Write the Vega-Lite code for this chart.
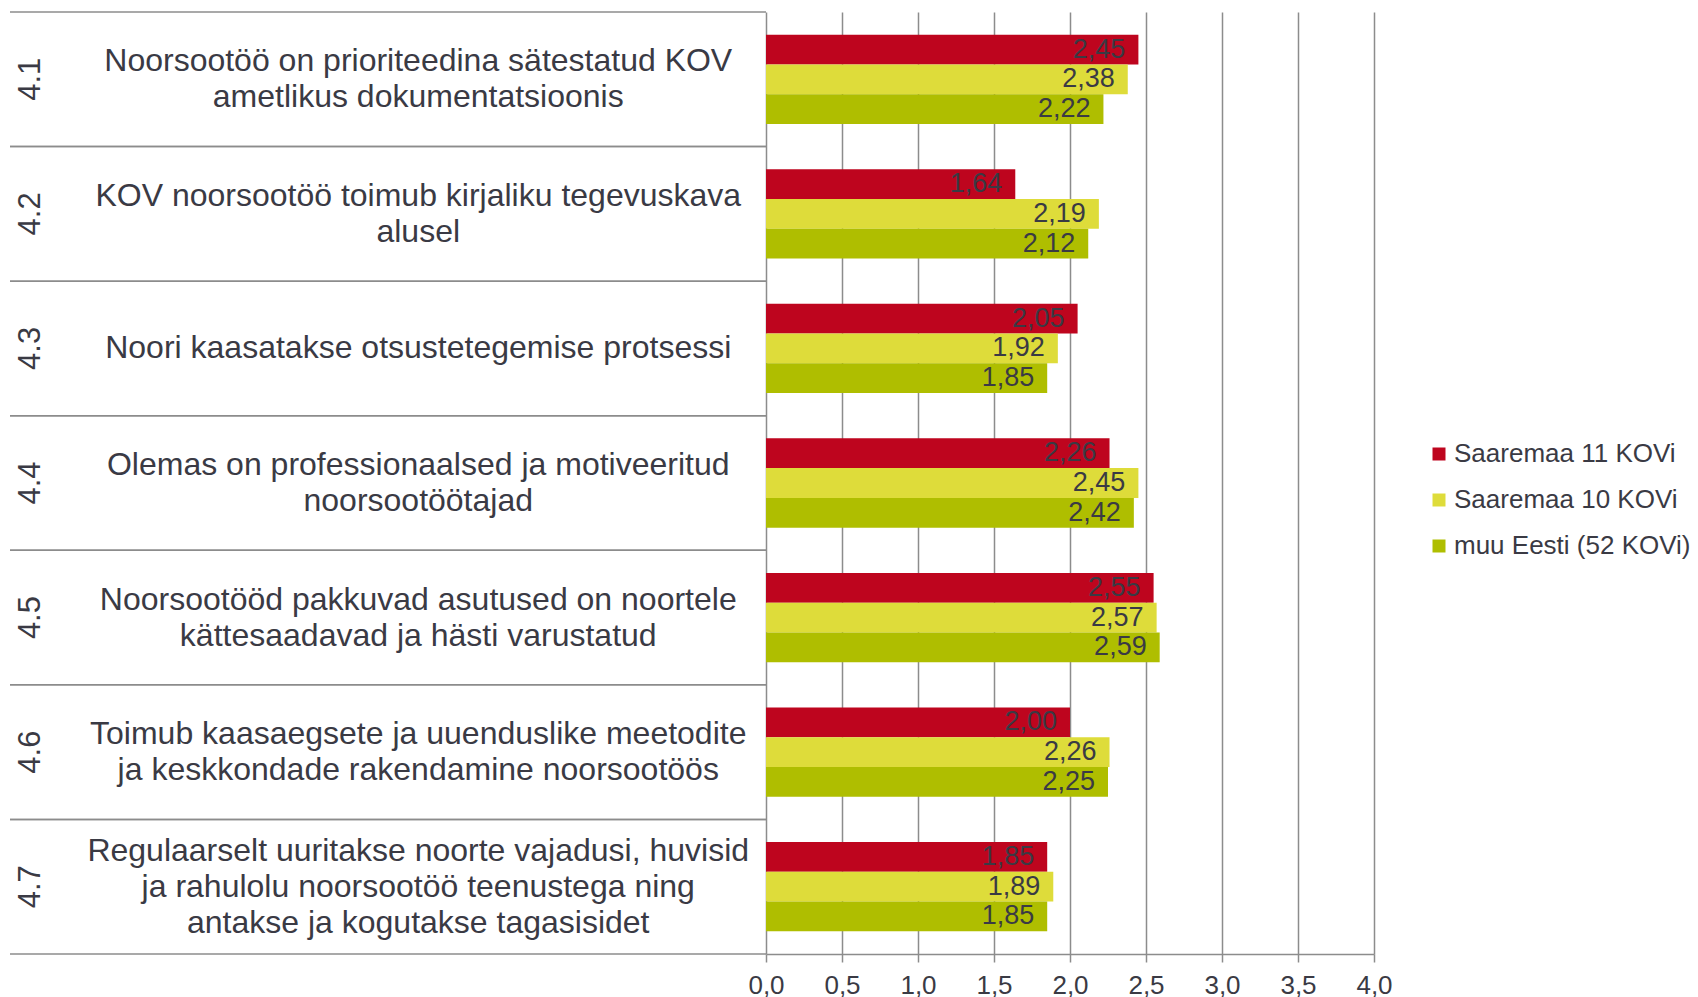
{
  "$schema": "https://vega.github.io/schema/vega-lite/v6.json",
  "padding": {"left": 9, "top": 11, "right": 0, "bottom": 0},
  "background": "white",
  "datasets": {
    "kategooriad": [
      {"kood": "4.1", "kirjeldus": "Noorsootöö on prioriteedina sätestatud KOV\nametlikus dokumentatsioonis"},
      {"kood": "4.2", "kirjeldus": "KOV noorsootöö toimub kirjaliku tegevuskava\nalusel"},
      {"kood": "4.3", "kirjeldus": "Noori kaasatakse otsustetegemise protsessi"},
      {"kood": "4.4", "kirjeldus": "Olemas on professionaalsed ja motiveeritud\nnoorsootöötajad"},
      {"kood": "4.5", "kirjeldus": "Noorsootööd pakkuvad asutused on noortele\nkättesaadavad ja hästi varustatud"},
      {"kood": "4.6", "kirjeldus": "Toimub kaasaegsete ja uuenduslike meetodite\nja keskkondade rakendamine noorsootöös"},
      {"kood": "4.7", "kirjeldus": "Regulaarselt uuritakse noorte vajadusi, huvisid\nja rahulolu noorsootöö teenustega ning\nantakse ja kogutakse tagasisidet"}
    ],
    "tulbad": [
      {"kood": "4.1", "grupp": "Saaremaa 11 KOVi", "vaartus": 2.45},
      {"kood": "4.1", "grupp": "Saaremaa 10 KOVi", "vaartus": 2.38},
      {"kood": "4.1", "grupp": "muu Eesti (52 KOVi)", "vaartus": 2.22},
      {"kood": "4.2", "grupp": "Saaremaa 11 KOVi", "vaartus": 1.64},
      {"kood": "4.2", "grupp": "Saaremaa 10 KOVi", "vaartus": 2.19},
      {"kood": "4.2", "grupp": "muu Eesti (52 KOVi)", "vaartus": 2.12},
      {"kood": "4.3", "grupp": "Saaremaa 11 KOVi", "vaartus": 2.05},
      {"kood": "4.3", "grupp": "Saaremaa 10 KOVi", "vaartus": 1.92},
      {"kood": "4.3", "grupp": "muu Eesti (52 KOVi)", "vaartus": 1.85},
      {"kood": "4.4", "grupp": "Saaremaa 11 KOVi", "vaartus": 2.26},
      {"kood": "4.4", "grupp": "Saaremaa 10 KOVi", "vaartus": 2.45},
      {"kood": "4.4", "grupp": "muu Eesti (52 KOVi)", "vaartus": 2.42},
      {"kood": "4.5", "grupp": "Saaremaa 11 KOVi", "vaartus": 2.55},
      {"kood": "4.5", "grupp": "Saaremaa 10 KOVi", "vaartus": 2.57},
      {"kood": "4.5", "grupp": "muu Eesti (52 KOVi)", "vaartus": 2.59},
      {"kood": "4.6", "grupp": "Saaremaa 11 KOVi", "vaartus": 2.00},
      {"kood": "4.6", "grupp": "Saaremaa 10 KOVi", "vaartus": 2.26},
      {"kood": "4.6", "grupp": "muu Eesti (52 KOVi)", "vaartus": 2.25},
      {"kood": "4.7", "grupp": "Saaremaa 11 KOVi", "vaartus": 1.85},
      {"kood": "4.7", "grupp": "Saaremaa 10 KOVi", "vaartus": 1.89},
      {"kood": "4.7", "grupp": "muu Eesti (52 KOVi)", "vaartus": 1.85}
    ]
  },
  "spacing": 0,
  "bounds": "flush",
  "hconcat": [
    {
      "width": 756,
      "height": 942,
      "data": {"name": "kategooriad"},
      "encoding": {
        "y": {"field": "kood", "type": "nominal", "scale": {"paddingInner": 0, "paddingOuter": 0}, "axis": null}
      },
      "layer": [
        {
          "mark": {"type": "rule", "color": "#8c8c8c", "strokeWidth": 1.5},
          "encoding": {"y": {"field": "kood", "type": "nominal", "bandPosition": 0, "axis": null}}
        },
        {
          "mark": {"type": "rule", "color": "#8c8c8c", "strokeWidth": 1.5},
          "encoding": {"y": {"field": "kood", "type": "nominal", "bandPosition": 1, "axis": null}}
        },
        {
          "mark": {"type": "text", "angle": 270, "fontSize": 31, "font": "Liberation Sans", "color": "#3a3a44", "align": "center", "baseline": "middle"},
          "encoding": {
            "x": {"datum": 0.028, "type": "quantitative", "scale": {"domain": [0, 1]}, "axis": null},
            "text": {"field": "kood", "type": "nominal"}
          }
        },
        {
          "transform": [{"filter": "length(split(datum.kirjeldus, '\\n')) == 1"}],
          "mark": {"type": "text", "fontSize": 32, "font": "Liberation Sans", "color": "#3a3a44", "align": "center", "baseline": "middle", "lineBreak": "\n", "lineHeight": 36},
          "encoding": {
            "x": {"datum": 0.54, "type": "quantitative", "scale": {"domain": [0, 1]}, "axis": null},
            "text": {"field": "kirjeldus", "type": "nominal"}
          }
        },
        {
          "transform": [{"filter": "length(split(datum.kirjeldus, '\\n')) == 2"}],
          "mark": {"type": "text", "fontSize": 32, "font": "Liberation Sans", "color": "#3a3a44", "align": "center", "baseline": "middle", "lineBreak": "\n", "lineHeight": 36, "dy": -18},
          "encoding": {
            "x": {"datum": 0.54, "type": "quantitative", "scale": {"domain": [0, 1]}, "axis": null},
            "text": {"field": "kirjeldus", "type": "nominal"}
          }
        },
        {
          "transform": [{"filter": "length(split(datum.kirjeldus, '\\n')) == 3"}],
          "mark": {"type": "text", "fontSize": 32, "font": "Liberation Sans", "color": "#3a3a44", "align": "center", "baseline": "middle", "lineBreak": "\n", "lineHeight": 36, "dy": -36},
          "encoding": {
            "x": {"datum": 0.54, "type": "quantitative", "scale": {"domain": [0, 1]}, "axis": null},
            "text": {"field": "kirjeldus", "type": "nominal"}
          }
        }
      ]
    },
    {
      "width": 608,
      "height": 942,
      "data": {"name": "tulbad"},
      "encoding": {
        "y": {"field": "kood", "type": "nominal", "scale": {"paddingInner": 0, "paddingOuter": 0}, "axis": null},
        "yOffset": {"field": "grupp", "type": "nominal", "sort": ["Saaremaa 11 KOVi", "Saaremaa 10 KOVi", "muu Eesti (52 KOVi)"], "scale": {"paddingInner": 0, "paddingOuter": 0.76}},
        "x": {
          "field": "vaartus", "type": "quantitative",
          "scale": {"domain": [0, 4], "nice": false},
          "axis": {
            "values": [0, 0.5, 1, 1.5, 2, 2.5, 3, 3.5, 4],
            "format": ".1f",
            "title": null,
            "labelFlush": false,
            "grid": true, "gridColor": "#8c8c8c", "gridWidth": 1.5,
            "domainColor": "#8c8c8c", "domainWidth": 1.5,
            "tickColor": "#8c8c8c", "tickWidth": 1.5, "tickSize": 8,
            "labelFont": "Liberation Sans", "labelFontSize": 26, "labelColor": "#3a3a44", "labelPadding": 10
          }
        }
      },
      "layer": [
        {
          "mark": {"type": "bar"},
          "encoding": {
            "color": {
              "field": "grupp", "type": "nominal",
              "scale": {"domain": ["Saaremaa 11 KOVi", "Saaremaa 10 KOVi", "muu Eesti (52 KOVi)"], "range": ["#be051e", "#dedc3a", "#afbe00"]},
              "legend": {
                "title": null, "orient": "none", "legendX": 1416, "legendY": 429,
                "padding": 0, "symbolType": "square", "symbolSize": 169, "symbolStrokeWidth": 0,
                "labelFont": "Liberation Sans", "labelFontSize": 26, "labelColor": "#3a3a44", "labelOffset": 2, "labelLimit": 0, "rowPadding": 20
              }
            }
          }
        },
        {
          "mark": {"type": "text", "align": "right", "baseline": "middle", "dx": -13, "fontSize": 27, "font": "Liberation Sans", "color": "#3a3a44"},
          "encoding": {
            "text": {"field": "vaartus", "type": "quantitative", "format": ".2f"}
          }
        }
      ]
    }
  ],
  "config": {
    "view": {"stroke": null},
    "locale": {"number": {"decimal": ",", "thousands": " ", "grouping": [3], "currency": ["", " €"]}}
  }
}
